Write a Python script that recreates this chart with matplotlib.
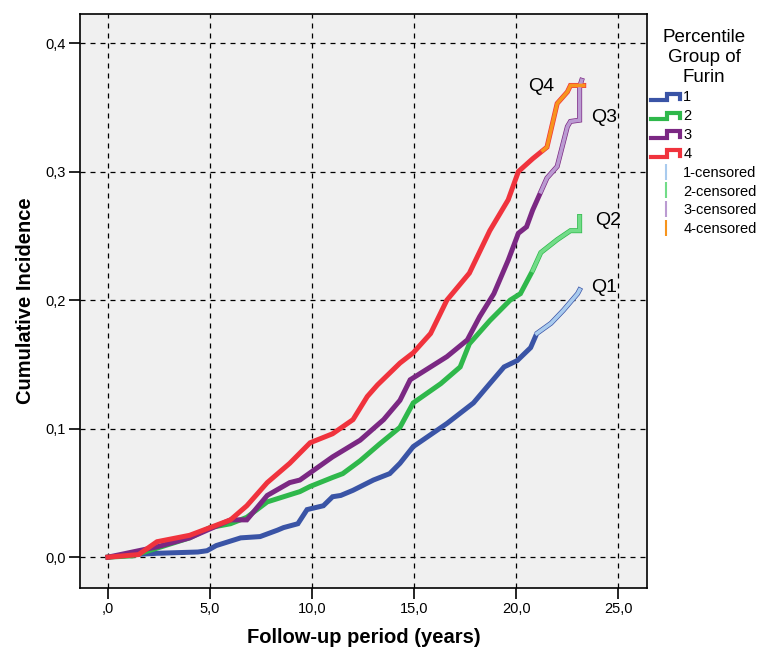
import matplotlib
matplotlib.use("Agg")
import matplotlib.pyplot as plt
from matplotlib.legend_handler import HandlerBase
from matplotlib.lines import Line2D
from matplotlib.ticker import FuncFormatter

plt.rcParams["font.family"] = ["Liberation Sans", "DejaVu Sans"]

# cumulative incidence per percentile group of furin
q1_t = [0, 1.2, 2.4, 4.4, 4.85, 5.3, 6.1, 6.5, 7.45, 8.3, 8.6, 9.3, 9.75, 10.55, 11.0,
        11.4, 12.0, 13.0, 13.8, 14.3, 14.95, 16.6, 17.9, 18.7, 19.4, 20.05, 20.7, 21.0,
        21.7, 22.3, 23.0, 23.1]
q1_y = [0, 0.002, 0.003, 0.004, 0.005, 0.009, 0.013, 0.015, 0.016, 0.021, 0.023, 0.026,
        0.037, 0.040, 0.047, 0.048, 0.052, 0.060, 0.065, 0.073, 0.086, 0.104, 0.120, 0.135,
        0.148, 0.153, 0.163, 0.174, 0.182, 0.192, 0.205, 0.208]

q2_t = [0, 1.2, 2.4, 4.0, 5.0, 6.0, 6.8, 7.8, 9.4, 9.9, 11.0, 11.5, 12.35, 13.3, 14.3,
        14.95, 16.3, 17.25, 17.7, 18.7, 19.7, 20.2, 20.8, 21.2, 22.0, 22.65, 23.1, 23.1]
q2_y = [0, 0.001, 0.007, 0.015, 0.023, 0.026, 0.031, 0.043, 0.051, 0.055, 0.062, 0.065,
        0.075, 0.088, 0.101, 0.120, 0.135, 0.148, 0.166, 0.184, 0.200, 0.205, 0.223, 0.237,
        0.247, 0.254, 0.254, 0.265]

q3_t = [0, 1.2, 2.4, 4.0, 6.0, 6.8, 7.8, 8.9, 9.4, 11.0, 12.35, 13.5, 14.3, 14.8, 16.6,
        17.6, 18.2, 18.9, 19.6, 20.1, 20.5, 20.8, 21.5, 22.0, 22.5, 22.65, 23.1, 23.1, 23.2]
q3_y = [0, 0.004, 0.008, 0.015, 0.029, 0.029, 0.048, 0.058, 0.060, 0.078, 0.091, 0.107,
        0.122, 0.138, 0.156, 0.169, 0.187, 0.205, 0.231, 0.252, 0.257, 0.270, 0.295, 0.304,
        0.335, 0.339, 0.340, 0.366, 0.371]

q4_t = [0, 1.5, 2.4, 4.0, 5.0, 6.0, 6.8, 7.8, 8.9, 9.9, 11.0, 12.0, 12.7, 13.2, 14.3,
        14.95, 15.8, 16.6, 17.7, 18.7, 19.6, 20.1, 20.8, 21.5, 22.0, 22.5, 22.65, 23.3]
q4_y = [0, 0.002, 0.012, 0.017, 0.023, 0.029, 0.040, 0.058, 0.073, 0.089, 0.096, 0.107,
        0.125, 0.134, 0.151, 0.159, 0.174, 0.200, 0.221, 0.254, 0.278, 0.300, 0.310, 0.319,
        0.353, 0.362, 0.367, 0.367]

# time from which censored marks dominate each curve
cens_start = [21.0, 20.8, 21.2, 21.3]

groups = ["1", "2", "3", "4"]
curve_labels = ["Q1", "Q2", "Q3", "Q4"]
label_pos = [(24.3, 0.210), (24.5, 0.262), (24.3, 0.342), (21.2, 0.366)]

colors = ["#3a54a6", "#2fb84b", "#7b2883", "#f0333d"]
cens_colors = ["#a9cbee", "#72dc88", "#bb9bd2", "#f7941d"]

series = [(q1_t, q1_y), (q2_t, q2_y), (q3_t, q3_y), (q4_t, q4_y)]


class StepHandler(HandlerBase):
    def create_artists(self, legend, orig_handle, xdescent, ydescent, width, height,
                       fontsize, trans):
        x0, y0 = -xdescent, -ydescent
        xs = [x0, x0 + width * 0.55, x0 + width * 0.55, x0 + width, x0 + width]
        ys = [y0 + height * 0.1, y0 + height * 0.1, y0 + height * 0.75,
              y0 + height * 0.75, y0 + height * 0.2]
        ln = Line2D(xs, ys, color=orig_handle.get_color(), lw=3.0,
                    solid_joinstyle="miter", transform=trans)
        return [ln]


fig = plt.figure(figsize=(7.57, 6.48), dpi=100)
ax = fig.add_axes([0.1057, 0.0926, 0.7490, 0.8858])
ax.set_facecolor("#f0f0f0")

for (t, y), c, cc, cs in zip(series, colors, cens_colors, cens_start):
    ax.plot(t, y, color=c, lw=3.6, solid_joinstyle="miter", zorder=3)
    # lighter tail where the censored ticks pile up
    i0 = [i for i, v in enumerate(t) if v <= cs][-1]
    f = (cs - t[i0]) / (t[i0 + 1] - t[i0]) if t[i0 + 1] != t[i0] else 0
    tail_t = [cs] + t[i0 + 1:]
    tail_y = [y[i0] + f * (y[i0 + 1] - y[i0])] + y[i0 + 1:]
    ax.plot(tail_t, tail_y, color=cc, lw=2.6, solid_joinstyle="miter", zorder=4)

for lab, (lx, ly) in zip(curve_labels, label_pos):
    ax.text(lx, ly, lab, fontsize=14, ha="center", va="center", zorder=5)

ax.set_xlim(-1.37, 26.4)
ax.set_ylim(-0.024, 0.4226)
ax.set_xticks([0, 5, 10, 15, 20, 25])
ax.set_yticks([0, 0.1, 0.2, 0.3, 0.4])
ax.xaxis.set_major_formatter(FuncFormatter(lambda v, p: ",0" if v == 0 else f"{v:.1f}".replace(".", ",")))
ax.yaxis.set_major_formatter(FuncFormatter(lambda v, p: f"{v:.1f}".replace(".", ",")))
ax.tick_params(direction="out", length=8, width=1.2, labelsize=10.5, color="black", pad=2)
ax.grid(True, color="black", linestyle=(0, (4, 4)), lw=0.9)
ax.set_axisbelow(True)
for s in ax.spines.values():
    s.set_linewidth(1.2)

ax.set_xlabel("Follow-up period (years)", fontsize=14.5, fontweight="bold", labelpad=9)
ax.set_ylabel("Cumulative Incidence", fontsize=14.5, fontweight="bold", labelpad=8)

handles = [Line2D([], [], color=c) for c in colors]
handles += [Line2D([], [], color=cc, marker="|", linestyle="None", markersize=12,
                   markeredgewidth=1.5) for cc in cens_colors]
labels = groups + [g + "-censored" for g in groups]
handler_map = {h: StepHandler() for h in handles[:4]}
leg = fig.legend(handles, labels, handler_map=handler_map, loc="upper center",
                 bbox_to_anchor=(0.930, 0.959), frameon=False, fontsize=10.5,
                 title="Percentile\nGroup of\nFurin", title_fontsize=13.5,
                 handlelength=2.0, handletextpad=0.2, labelspacing=0.33,
                 borderaxespad=0, borderpad=0.2, alignment="center")
leg.get_title().set_multialignment("center")

fig.savefig("out.png", dpi=100)
